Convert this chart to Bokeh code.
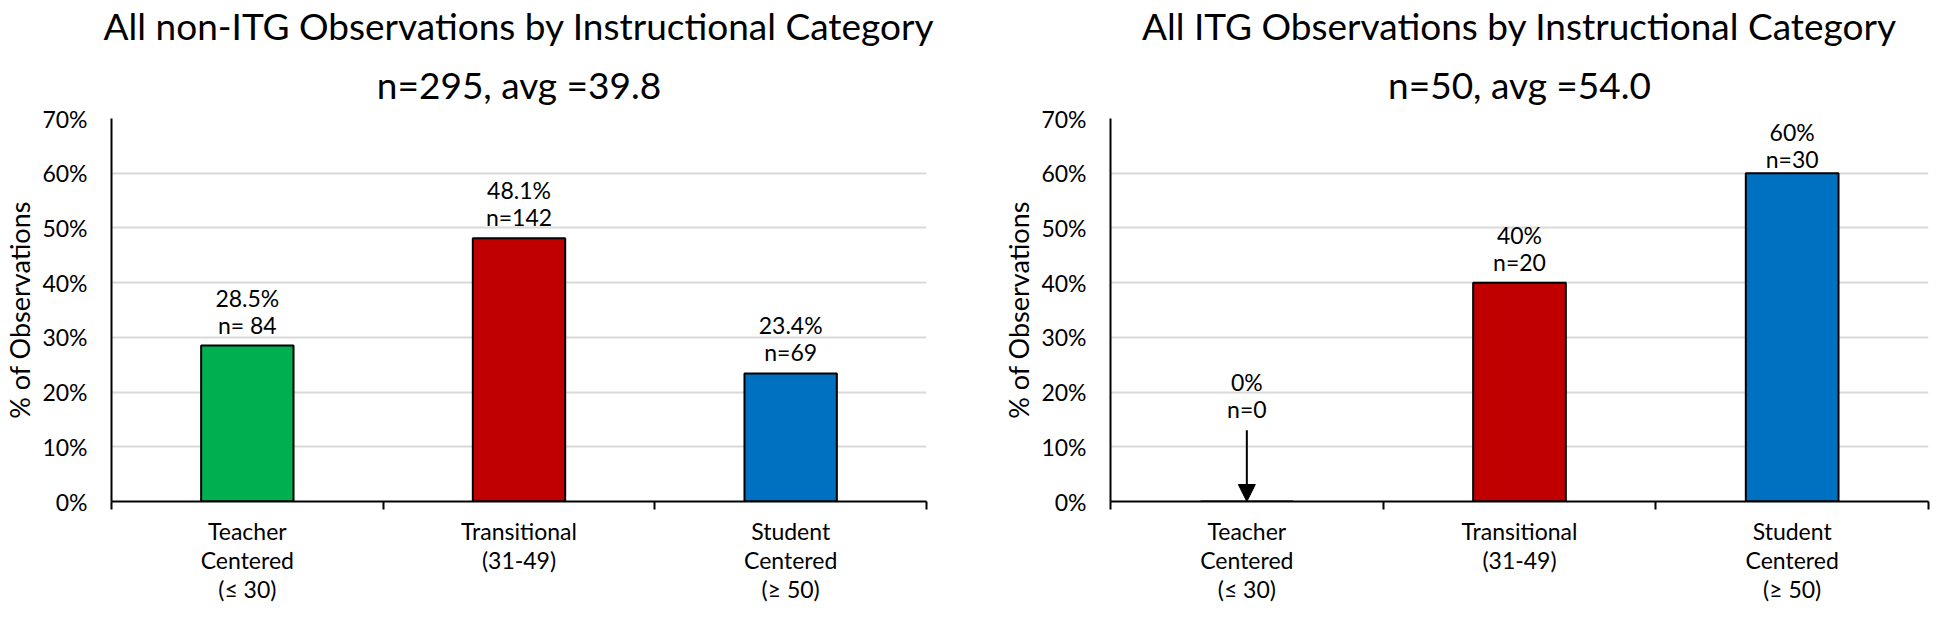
from bokeh.plotting import figure
from bokeh.models import (Range1d, LinearAxis, FixedTicker,
                          PrintfTickFormatter, Title, ColumnDataSource, LabelSet, Arrow, NormalHead)
from bokeh.core.properties import value
from bokeh.layouts import row
from bokeh.embed import file_html
from bokeh.resources import INLINE

# ---------------- data ----------------
categories = ["Teacher\nCentered\n(\u2264 30)", "Transitional\n(31-49)", "Student\nCentered\n(\u2265 50)"]
bar_colors = ["#00B050", "#C00000", "#0070C0"]
y_ticks = [0, 10, 20, 30, 40, 50, 60, 70]

left_title = "All non-ITG Observations by Instructional Category"
left_subtitle = "n=295, avg =39.8"
left_pct = [28.5, 48.1, 23.4]
left_pct_labels = ["28.5%", "48.1%", "23.4%"]
left_n_labels = ["n= 84", "n=142", "n=69"]

right_title = "All ITG Observations by Instructional Category"
right_subtitle = "n=50, avg =54.0"
right_pct = [0, 40, 60]
right_pct_labels = ["0%", "40%", "60%"]
right_n_labels = ["n=0", "n=20", "n=30"]

zero_arrow_len = 13  # length (in % units) of the arrow pointing to an empty category

FONT = "Lato"
H = 606
BORDER_TOP = 118
BORDER_BOTTOM = 94
Y_MAX = 70


def make_chart(title, subtitle, pct, pct_labels, n_labels, width, border_left, border_right):
    ncat = len(categories)
    centers = [i + 0.5 for i in range(ncat)]
    p = figure(width=width, height=H,
               x_range=Range1d(0, ncat),
               y_range=Range1d(0, Y_MAX),
               output_backend="svg", toolbar_location=None,
               x_axis_location=None, title=None,
               min_border_left=border_left, min_border_right=border_right,
               min_border_top=BORDER_TOP, min_border_bottom=BORDER_BOTTOM)
    p.outline_line_color = None
    p.background_fill_color = "white"
    p.border_fill_color = "white"

    # titles
    p.add_layout(Title(text=subtitle, align="center", text_font=FONT, text_font_size="37px",
                       text_font_style="normal", text_color="black", standoff=24), "above")
    p.add_layout(Title(text=title, align="center", text_font=FONT, text_font_size="37px",
                       text_font_style="normal", text_color="black", standoff=0), "above")

    # y axis
    ya = p.yaxis[0]
    ya.ticker = FixedTicker(ticks=y_ticks)
    ya.formatter = PrintfTickFormatter(format="%d%%")
    ya.major_tick_line_color = None
    ya.major_tick_out = 0
    ya.major_tick_in = 0
    ya.minor_tick_line_color = None
    ya.axis_line_color = "black"
    ya.axis_line_width = 2
    ya.major_label_text_font = FONT
    ya.major_label_text_font_size = "23px"
    ya.major_label_text_color = "black"
    ya.major_label_standoff = 24
    ya.axis_label = "% of Observations"
    ya.axis_label_text_font = FONT
    ya.axis_label_text_font_size = "27px"
    ya.axis_label_text_font_style = "normal"
    ya.axis_label_text_color = "black"
    ya.axis_label_standoff = 3

    p.ygrid.ticker = FixedTicker(ticks=y_ticks)
    p.ygrid.grid_line_color = "#D9D9D9"
    p.ygrid.grid_line_width = 2
    p.xgrid.grid_line_color = None

    # x axis: labels at category centers, (minor) ticks at category edges
    x_axis = LinearAxis(ticker=FixedTicker(ticks=centers, minor_ticks=list(range(ncat + 1))),
                        major_label_overrides={c: lab for c, lab in zip(centers, categories)},
                        axis_line_color="black", axis_line_width=2,
                        major_tick_line_color=None, major_tick_out=0, major_tick_in=0,
                        minor_tick_line_color="black", minor_tick_line_width=2,
                        minor_tick_out=8, minor_tick_in=0,
                        major_label_text_font=FONT, major_label_text_font_size="23px",
                        major_label_text_line_height=1.05,
                        major_label_text_color="black", major_label_standoff=7)
    p.add_layout(x_axis, "below")

    # data labels: keep them inside the plot area (as the original chart does)
    px_per_unit = (H - BORDER_TOP - BORDER_BOTTOM) / Y_MAX
    label_y = [v if v > 0 else zero_arrow_len for v in pct]
    pct_off = [min(48, (Y_MAX - y) * px_per_unit - 15) for y in label_y]
    n_off = [o - 27 for o in pct_off]
    src = ColumnDataSource(dict(x=centers, pct=pct, color=bar_colors,
                                pct_label=pct_labels, n_label=n_labels, label_y=label_y,
                                pct_off=pct_off, n_off=n_off))
    p.vbar(x="x", top="pct", width=0.34, source=src, fill_color="color",
           line_color="black", line_width=2)

    common = dict(x="x", y="label_y", source=src, text_align="center", text_baseline="middle",
                  text_font=value(FONT), text_font_size=value("23px"), text_color="black")
    p.add_layout(LabelSet(text="n_label", y_offset="n_off", **common))
    p.add_layout(LabelSet(text="pct_label", y_offset="pct_off", **common))

    zx = [c for c, v in zip(centers, pct) if v == 0]
    if zx:
        asrc = ColumnDataSource(dict(x=zx, y0=[zero_arrow_len] * len(zx), y1=[0] * len(zx)))
        p.add_layout(Arrow(x_start="x", y_start="y0", x_end="x", y_end="y1", source=asrc,
                           line_color="black", line_width=2,
                           end=NormalHead(size=17, fill_color="black", line_color="black")))
    return p


p1 = make_chart(left_title, left_subtitle, left_pct, left_pct_labels, left_n_labels,
                960, 104, 34)
p2 = make_chart(right_title, right_subtitle, right_pct, right_pct_labels, right_n_labels,
                970, 150, 2)

layout = row(p1, p2)
open("out.html", "w").write(file_html(layout, INLINE))
